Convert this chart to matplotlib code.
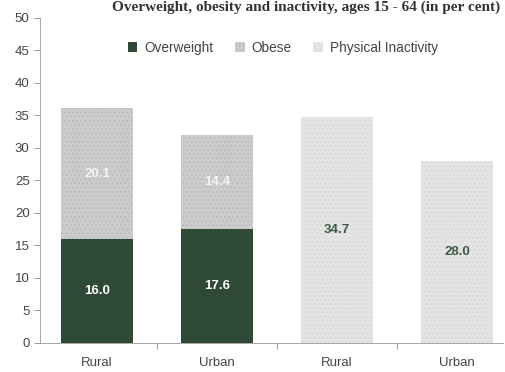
import numpy as np
import matplotlib.pyplot as plt

plt.rcParams['hatch.linewidth'] = 0.4
plt.rcParams['font.family'] = ['Liberation Sans', 'DejaVu Sans']

categories = ['Rural', 'Urban', 'Rural', 'Urban']
overweight = [16.0, 17.6]
obese = [20.1, 14.4]
inactivity = [34.7, 28.0]

green = '#2e4a37'
grey_obese = '#cbcbcb'
grey_inact = '#e4e4e4'
txt = '#444444'

fig = plt.figure(figsize=(5.05, 3.72), dpi=100)
ax = fig.add_axes([40/505, 0.078, 463/505, 0.874])

x1 = np.array([0, 1])
x2 = np.array([2, 3])
w = 0.6

ax.bar(x1, overweight, w, color=green, label='Overweight', linewidth=0)
ax.bar(x1, obese, w, bottom=overweight, color=grey_obese,
       edgecolor='#b3b3b3', hatch='....', linewidth=0, label='Obese')
ax.bar(x2, inactivity, w, color=grey_inact, edgecolor='#d2d2d2',
       hatch='....', linewidth=0, label='Physical Inactivity')

for x, v in zip(x1, overweight):
    ax.text(x, v / 2, f'{v:.1f}', ha='center', va='center', color='white',
            fontsize=9.5, fontweight='bold')
for x, b, v in zip(x1, overweight, obese):
    ax.text(x, b + v / 2, f'{v:.1f}', ha='center', va='center', color='#f4f4f4',
            fontsize=9.5, fontweight='bold')
for x, v in zip(x2, inactivity):
    ax.text(x, v / 2, f'{v:.1f}', ha='center', va='center', color='#3c5a45',
            fontsize=9.5, fontweight='bold')

ax.set_xlim(-0.475, 3.383)
ax.set_ylim(0, 50)
ax.set_yticks(np.arange(0, 51, 5))
ax.tick_params(axis='y', colors='#888888', labelcolor=txt, labelsize=9.5,
               length=4, width=0.6)

ax.set_xticks(np.arange(4))
ax.set_xticklabels(categories)
ax.set_xticks([0.5, 1.5, 2.5], minor=True)
ax.tick_params(axis='x', which='major', length=0, pad=10,
               labelcolor=txt, labelsize=9.5)
ax.tick_params(axis='x', which='minor', length=4, width=0.6, colors='#888888')

for s in ['top', 'right']:
    ax.spines[s].set_visible(False)
for s in ['left', 'bottom']:
    ax.spines[s].set_color('#999999')
    ax.spines[s].set_linewidth(0.6)

ax.legend(loc='center', bbox_to_anchor=(0.56, 1 - 48/372),
          bbox_transform=fig.transFigure, ncol=3, frameon=False,
          fontsize=9.8, handlelength=0.7, handleheight=0.7,
          handletextpad=0.5, columnspacing=1.6, labelcolor=txt)

fig.text(500/505, 1 - 11/372, 'Overweight, obesity and inactivity, ages 15 - 64 (in per cent)',
         ha='right', va='baseline', fontsize=11, fontweight='bold',
         family='Liberation Serif', color='#333333')

fig.savefig('out.png', dpi=100)
